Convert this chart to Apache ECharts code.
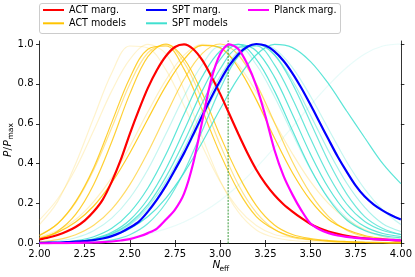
<!DOCTYPE html>
<html><head><meta charset="utf-8">
<script src="https://cdn.jsdelivr.net/npm/echarts@6/dist/echarts.min.js"></script>
<style>html,body{margin:0;padding:0;background:#fff}#c{width:415px;height:277px}</style>
</head><body><div id="c"></div>
<script>
// ---- data ----
const xFine = [2.00,2.05,2.10,2.15,2.20,2.25,2.30,2.35,2.40,2.45,2.50,2.55,2.60,2.65,2.70,2.75,2.80,2.85,2.90,2.95,3.00,3.05,3.10,3.15,3.20,3.25,3.30,3.35,3.40,3.45,3.50,3.55,3.60,3.65,3.70,3.75,3.80,3.85,3.90,3.95,4.00];
const xCoarse = [2.0,2.1,2.2,2.3,2.4,2.5,2.6,2.7,2.8,2.9,3.0,3.1,3.2,3.3,3.4,3.5,3.6,3.7,3.8,3.9,4.0];

const actMarg = [0.02,0.03,0.043,0.06,0.083,0.115,0.16,0.22,0.31,0.42,0.55,0.67,0.78,0.87,0.94,0.985,0.998,0.975,0.92,0.84,0.75,0.65,0.55,0.455,0.37,0.30,0.243,0.197,0.16,0.127,0.098,0.076,0.06,0.048,0.038,0.031,0.026,0.022,0.019,0.017,0.015];
const sptMarg = [0.003,0.004,0.005,0.007,0.009,0.012,0.017,0.025,0.037,0.055,0.08,0.11,0.16,0.22,0.29,0.37,0.453,0.545,0.639,0.731,0.816,0.891,0.948,0.986,1.0,0.992,0.963,0.916,0.853,0.778,0.695,0.608,0.521,0.436,0.36,0.29,0.235,0.195,0.165,0.14,0.12];
const planckMarg = [0.001,0.001,0.002,0.002,0.003,0.004,0.005,0.007,0.01,0.015,0.022,0.035,0.052,0.075,0.12,0.17,0.25,0.40,0.61,0.82,0.95,0.998,0.975,0.90,0.79,0.64,0.47,0.34,0.245,0.165,0.10,0.07,0.052,0.04,0.033,0.028,0.025,0.022,0.02,0.018,0.016];

const actModel1 = [0.027,0.056,0.108,0.188,0.305,0.454,0.624,0.79,0.923,0.993,0.982,0.882,0.72,0.53,0.355,0.216,0.12,0.07,0.04,0.025,0.015];
const actModel2 = [0.04,0.099,0.21,0.38,0.607,0.83,0.974,0.99,0.874,0.67,0.45,0.265,0.135,0.07,0.035,0.02,0.012,0.008,0.005,0.004,0.003];
const actModel3 = [0.022,0.062,0.146,0.296,0.51,0.75,0.937,1.0,0.926,0.755,0.54,0.344,0.19,0.093,0.045,0.025,0.015,0.01,0.007,0.005,0.004];
const actModel4 = [0.042,0.099,0.205,0.37,0.58,0.80,0.956,0.997,0.907,0.72,0.495,0.296,0.155,0.071,0.03,0.018,0.011,0.007,0.005,0.004,0.003];
const actModel5 = [0.008,0.019,0.044,0.091,0.172,0.295,0.458,0.644,0.823,0.952,1.0,0.946,0.80,0.607,0.41,0.25,0.135,0.066,0.035,0.02,0.012];
const actModel6 = [0.032,0.065,0.12,0.21,0.33,0.487,0.66,0.82,0.944,0.998,0.978,0.895,0.76,0.607,0.45,0.31,0.20,0.122,0.07,0.036,0.02];
const actModel7 = [0.095,0.21,0.40,0.63,0.855,0.99,0.98,0.87,0.69,0.49,0.31,0.175,0.09,0.045,0.03,0.02,0.014,0.01,0.008,0.006,0.005];
const actModel8 = [0.118,0.223,0.375,0.566,0.765,0.923,0.998,0.95,0.77,0.534,0.315,0.158,0.068,0.03,0.015,0.01,0.007,0.005,0.004,0.003,0.002];

const sptModel1 = [0.0015,0.0048,0.014,0.034,0.076,0.155,0.278,0.447,0.648,0.835,0.965,0.998,0.923,0.765,0.566,0.375,0.223,0.118,0.065,0.04,0.028];
const sptModel2 = [0.001,0.003,0.009,0.024,0.056,0.118,0.223,0.375,0.566,0.765,0.923,0.998,0.965,0.835,0.647,0.448,0.278,0.155,0.085,0.05,0.035];
const sptModel3 = [0.001,0.003,0.008,0.021,0.05,0.103,0.195,0.334,0.51,0.703,0.875,0.982,0.991,0.897,0.726,0.526,0.341,0.198,0.11,0.065,0.045];
const sptModel4 = [0.001,0.003,0.008,0.021,0.047,0.097,0.184,0.31,0.475,0.664,0.838,0.961,1.0,0.946,0.817,0.643,0.463,0.303,0.181,0.099,0.06];
const sptModel5 = [0.0001,0.0005,0.0017,0.0057,0.017,0.044,0.10,0.203,0.36,0.564,0.775,0.938,1.0,0.946,0.80,0.607,0.411,0.249,0.135,0.075,0.045];
const sptModel6 = [0.0046,0.012,0.029,0.064,0.127,0.228,0.371,0.55,0.737,0.896,0.988,0.988,0.896,0.737,0.55,0.371,0.228,0.127,0.064,0.035,0.02];
const sptModel7 = [0.0012,0.0032,0.0079,0.018,0.038,0.074,0.135,0.228,0.354,0.506,0.674,0.83,0.946,0.998,0.982,0.912,0.80,0.664,0.53,0.40,0.30];
const sptModel8 = [0.002,0.0035,0.006,0.011,0.019,0.031,0.048,0.073,0.108,0.155,0.216,0.291,0.38,0.48,0.585,0.693,0.794,0.882,0.95,0.99,1.0];
const sptModel9 = [0.001,0.003,0.008,0.02,0.046,0.093,0.171,0.287,0.446,0.625,0.80,0.936,0.998,0.976,0.882,0.738,0.573,0.41,0.273,0.168,0.095];

const xTicks = [2.00,2.25,2.50,2.75,3.00,3.25,3.50,3.75,4.00];
const yTicks = [0.0,0.2,0.4,0.6,0.8,1.0];
const nEffStandard = 3.044;

// ---- styles ----
const actModelList = [actModel1,actModel2,actModel3,actModel4,actModel5,actModel6,actModel7,actModel8];
const actModelOpacity = [0.85,0.8,0.8,0.45,0.6,0.25,0.2,0.2];
const sptModelList = [sptModel1,sptModel2,sptModel3,sptModel4,sptModel5,sptModel6,sptModel7,sptModel8,sptModel9];
const sptModelOpacity = [0.85,0.85,0.8,0.45,0.75,0.3,0.85,0.12,0.3];
const GOLD = '#ffc400', TURQ = '#40e0d0';
const FONT = '"DejaVu Sans", sans-serif';

function pairs(xs, ys){ return xs.map((x,i)=>[x, ys[i]]); }
const series = [];
actModelList.forEach((d,i)=>series.push({type:'line', name:'ACT models', data:pairs(xCoarse,d), symbol:'none', smooth:0.35, silent:true,
  lineStyle:{color:GOLD, width:1.2, opacity:actModelOpacity[i]}, itemStyle:{color:GOLD}, z:2}));
sptModelList.forEach((d,i)=>series.push({type:'line', name:'SPT models', data:pairs(xCoarse,d), symbol:'none', smooth:0.35, silent:true,
  lineStyle:{color:TURQ, width:1.2, opacity:sptModelOpacity[i]}, itemStyle:{color:TURQ}, z:2}));
series.push({type:'line', name:'std', data:[[nEffStandard,0],[nEffStandard,1.02]], symbol:'none', silent:true,
  lineStyle:{color:'#3a9a3a', width:1, type:[2,1.2]}, z:3});
series.push({type:'line', name:'ACT marg.', data:pairs(xFine,actMarg), symbol:'none', smooth:0.3, lineStyle:{color:'#ff0000', width:2.2}, itemStyle:{color:'#ff0000'}, z:4});
series.push({type:'line', name:'SPT marg.', data:pairs(xFine,sptMarg), symbol:'none', smooth:0.3, lineStyle:{color:'#0000ff', width:2.2}, itemStyle:{color:'#0000ff'}, z:4});
series.push({type:'line', name:'Planck marg.', data:pairs(xFine,planckMarg), symbol:'none', smooth:0.3, lineStyle:{color:'#ff00ff', width:2.2}, itemStyle:{color:'#ff00ff'}, z:4});

function leg(name, color, left, top){
  return {data:[name], left:left, top:top, padding:0, icon:'rect', itemWidth:21, itemHeight:2, itemGap:0,
    itemStyle:{color:color, opacity:1},
    textStyle:{fontSize:9.6, color:'#000', fontFamily:FONT}, selectedMode:false};
}
const axisLineStyle = {color:'#000', width:0.8};
const chart = echarts.init(document.getElementById('c'), null, {renderer:'canvas'});
chart.setOption({
  animation:false,
  grid:{left:39.5, right:12, top:41, bottom:33.5},
  legend:[leg('ACT marg.','#ff0000',43,5), leg('ACT models',GOLD,43,18.3), leg('SPT marg.','#0000ff',146,5), leg('SPT models',TURQ,146,18.3), leg('Planck marg.','#ff00ff',248,5)],
  xAxis:[
    {type:'value', position:'bottom', min:2, max:4, interval:0.25,
     axisLine:{lineStyle:axisLineStyle}, axisTick:{length:3.5, lineStyle:axisLineStyle},
     axisLabel:{formatter:v=>v.toFixed(2), fontSize:10, color:'#000', fontFamily:FONT, margin:6},
     splitLine:{show:false}},
    {type:'value', position:'top', min:2, max:4, interval:0.25,
     axisLine:{lineStyle:axisLineStyle}, axisTick:{length:3.5, lineStyle:axisLineStyle},
     axisLabel:{show:false}, splitLine:{show:false}}
  ],
  yAxis:[
    {type:'value', position:'left', min:0, max:1.015,
     axisLine:{show:true, lineStyle:axisLineStyle}, axisTick:{show:true, length:3.5, lineStyle:axisLineStyle, customValues:yTicks},
     axisLabel:{formatter:v=>v.toFixed(1), fontSize:10, color:'#000', fontFamily:FONT, margin:6, customValues:yTicks},
     splitLine:{show:false}},
    {type:'value', position:'right', min:0, max:1.015,
     axisLine:{show:true, lineStyle:axisLineStyle}, axisTick:{show:true, length:3.5, lineStyle:axisLineStyle, customValues:yTicks},
     axisLabel:{show:false, customValues:yTicks}, splitLine:{show:false}}
  ],
  graphic:[
    {type:'rect', shape:{x:39.5, y:3.5, width:301, height:30, r:2.5}, style:{fill:'rgba(255,255,255,0.8)', stroke:'#cccccc', lineWidth:1}, z:0, silent:true},
    {type:'text', x:212.5, y:265.5, style:{text:'N', font:'italic 10.5px "DejaVu Sans"', fill:'#000', verticalAlign:'middle'}, silent:true},
    {type:'text', x:219.5, y:269, style:{text:'eff', font:'7.5px "DejaVu Sans"', fill:'#000', verticalAlign:'middle'}, silent:true},
    {type:'group', x:8, y:157, rotation:Math.PI/2, silent:true, children:[
      {type:'text', x:0, y:0, style:{text:'P', font:'italic 10.5px "DejaVu Sans"', fill:'#000', verticalAlign:'middle'}},
      {type:'text', x:6.6, y:0, style:{text:'/', font:'10.5px "DejaVu Sans"', fill:'#000', verticalAlign:'middle'}},
      {type:'text', x:10.5, y:0, style:{text:'P', font:'italic 10.5px "DejaVu Sans"', fill:'#000', verticalAlign:'middle'}},
      {type:'text', x:17.5, y:3.5, style:{text:'max', font:'7.5px "DejaVu Sans"', fill:'#000', verticalAlign:'middle'}}
    ]}
  ],
  series:series
});
</script></body></html>
